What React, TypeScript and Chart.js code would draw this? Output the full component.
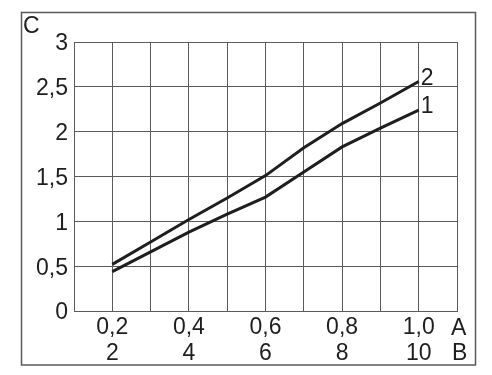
import React, { useEffect, useRef } from "react";
import { Chart, registerables } from "chart.js";

Chart.register(...registerables);

const xValues = [0.2, 0.3, 0.4, 0.5, 0.6, 0.7, 0.8, 0.9, 1.0];
const line1 = [0.44, 0.66, 0.88, 1.08, 1.27, 1.55, 1.83, 2.04, 2.24];
const line2 = [0.52, 0.77, 1.02, 1.26, 1.51, 1.82, 2.09, 2.32, 2.56];
const seriesNames = ["1", "2"];
const aTicks = [0.2, 0.4, 0.6, 0.8, 1.0];
const aLabels = ["0,2", "0,4", "0,6", "0,8", "1,0"];
const bLabels = ["2", "4", "6", "8", "10"];
const yTickValues = [0, 0.5, 1, 1.5, 2, 2.5, 3];
const yLabels = ["0", "0,5", "1", "1,5", "2", "2,5", "3"];
const xAxisNames = ["A", "B"];
const yAxisName = "C";

const FONT = "'Liberation Sans', Arial, sans-serif";
const INK = "#1e1e1e";
const GRID = "#5a5a5a";
const FS = 23;

export default function App() {
  const ref = useRef<HTMLCanvasElement | null>(null);
  useEffect(() => {
    if (!ref.current) return;
    const textPlugin = {
      id: "extraText",
      afterDraw(chart: any) {
        const ctx = chart.ctx;
        ctx.save();
        ctx.strokeStyle = GRID;
        ctx.lineWidth = 1.5;
        ctx.strokeRect(21.5, 12.5, 454, 352.5);
        ctx.fillStyle = INK;
        ctx.font = `${FS}px ${FONT}`;
        ctx.textBaseline = "middle";
        ctx.textAlign = "left";
        ctx.fillText(yAxisName, 23, 27);
        ctx.fillText(xAxisNames[0], 451, 329);
        ctx.fillText(xAxisNames[1], 452, 354);
        chart.data.datasets.forEach((ds: any, i: number) => {
          const meta = chart.getDatasetMeta(i);
          const pt = meta.data[meta.data.length - 1];
          ctx.fillText(seriesNames[i], pt.x + 2, pt.y - 3);
        });
        ctx.restore();
      },
    };
    const chart = new Chart(ref.current, {
      type: "line",
      data: {
        datasets: [
          {
            label: seriesNames[0],
            data: xValues.map((x, i) => ({ x, y: line1[i] })),
            borderColor: INK,
            borderWidth: 3,
            pointRadius: 0,
            tension: 0,
          },
          {
            label: seriesNames[1],
            data: xValues.map((x, i) => ({ x, y: line2[i] })),
            borderColor: INK,
            borderWidth: 3,
            pointRadius: 0,
            tension: 0,
          },
        ],
      },
      options: {
        animation: false,
        responsive: false,
        layout: { padding: { left: 0, top: 42, right: 35, bottom: 0 } },
        plugins: { legend: { display: false }, tooltip: { enabled: false } },
        scales: {
          x: {
            type: "linear",
            min: 0.1,
            max: 1.1,
            afterFit: (s: any) => {
              s.height = 64;
            },
            afterBuildTicks: (s: any) => {
              const t = [];
              for (let k = 1; k <= 11; k++) t.push({ value: k / 10 });
              s.ticks = t;
            },
            ticks: {
              autoSkip: false,
              maxRotation: 0,
              padding: 3,
              color: INK,
              font: { family: FONT, size: FS, lineHeight: 1.15 },
              callback: (v: any) => {
                const idx = aTicks.findIndex((a) => Math.abs(a - v) < 1e-6);
                return idx >= 0 ? [aLabels[idx], bLabels[idx]] : "";
              },
            },
            grid: { color: GRID, lineWidth: 1, drawTicks: false },
            border: { color: GRID, width: 1 },
          },
          y: {
            min: 0,
            max: 3,
            afterFit: (s: any) => {
              s.width = 74;
            },
            afterBuildTicks: (s: any) => {
              s.ticks = yTickValues.map((v) => ({ value: v }));
            },
            ticks: {
              padding: 6,
              labelOffset: 2,
              color: INK,
              font: { family: FONT, size: FS },
              callback: (v: any) => {
                const idx = yTickValues.findIndex((a) => Math.abs(a - v) < 1e-6);
                return idx >= 0 ? yLabels[idx] : "";
              },
            },
            grid: { color: GRID, lineWidth: 1, drawTicks: false },
            border: { color: GRID, width: 1 },
          },
        },
      },
      plugins: [textPlugin],
    } as any);
    return () => chart.destroy();
  }, []);
  return (
    <div style={{ position: "fixed", left: 0, top: 0, width: 492, height: 375, background: "#fff" }}>
      <canvas ref={ref} width={492} height={375} style={{ width: 492, height: 375 }} />
    </div>
  );
}
